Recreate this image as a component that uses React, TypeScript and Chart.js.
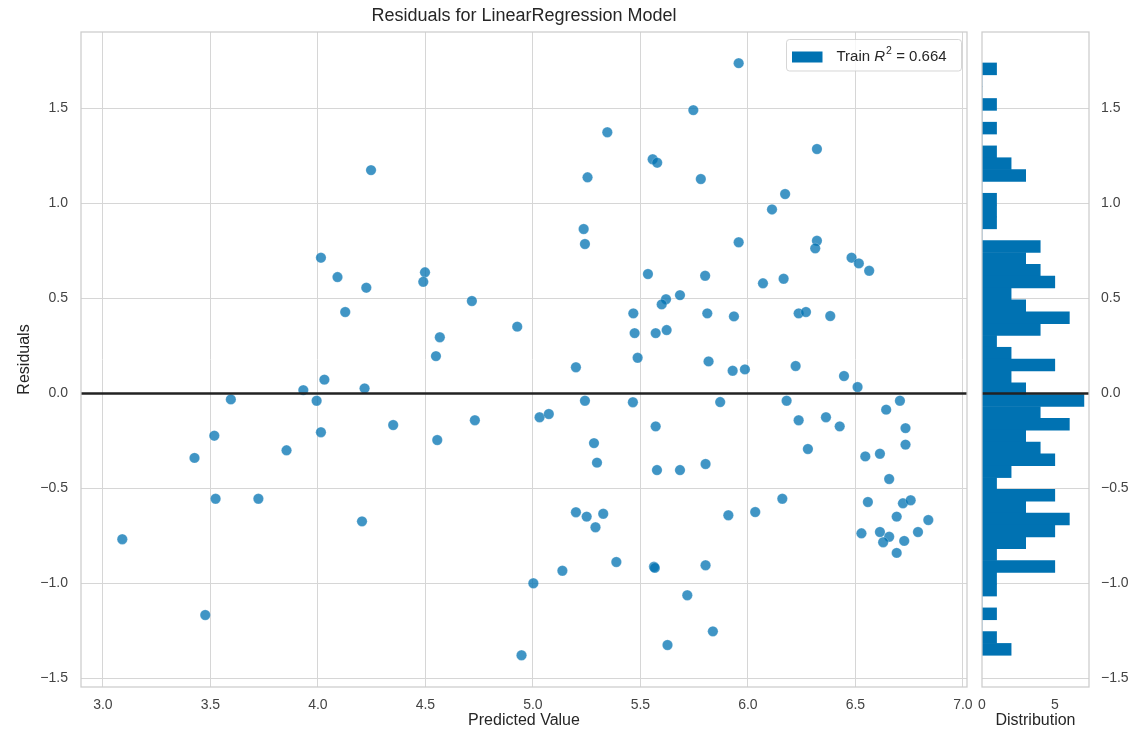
import React, { useEffect, useRef } from 'react';
import { Chart, registerables } from 'chart.js';

Chart.register(...registerables);

// ---------- data ----------
const predicted = [
  4.247, 4.014, 4.091, 4.225, 4.127, 4.030, 3.932, 4.217, 3.595, 3.994,
  4.014, 3.518, 3.854, 3.426, 3.524, 3.723, 4.205, 3.090, 3.476, 5.346,
  5.557, 5.578, 5.254, 5.236, 5.242, 5.535, 4.498, 4.490, 4.716, 5.619,
  5.599, 5.467, 4.567, 4.927, 5.473, 5.571, 5.622, 4.549, 5.487, 5.200,
  5.242, 5.465, 4.350, 4.730, 4.555, 5.031, 5.074, 5.571, 5.284, 5.298,
  5.577, 5.200, 5.250, 5.327, 5.291, 5.388, 5.563, 5.567, 5.137, 5.002,
  4.947, 5.626, 5.957, 5.746, 6.321, 5.781, 6.173, 6.112, 5.957, 6.321,
  6.313, 6.482, 6.516, 6.564, 5.801, 6.070, 6.166, 5.684, 5.811, 5.935,
  6.236, 6.270, 6.383, 5.817, 5.929, 5.986, 6.222, 6.447, 6.510, 5.871,
  6.180, 6.707, 6.643, 6.236, 6.363, 6.427, 6.733, 6.733, 6.279, 6.546,
  6.614, 6.657, 5.684, 5.803, 6.160, 5.909, 6.034, 6.558, 6.721, 6.757,
  6.692, 6.839, 6.528, 6.614, 6.657, 6.629, 6.727, 6.791, 6.692, 5.803,
  5.718, 5.837,
];

const residuals = [
  1.176, 0.715, 0.613, 0.557, 0.429, 0.073, 0.018, 0.027, -0.031, -0.038,
  -0.204, -0.222, -0.299, -0.339, -0.554, -0.554, -0.673, -0.767, -1.166, 1.375,
  1.233, 1.215, 1.138, 0.866, 0.787, 0.629, 0.638, 0.588, 0.487, 0.496,
  0.469, 0.422, 0.296, 0.352, 0.318, 0.318, 0.334, 0.197, 0.188, 0.138,
  -0.038, -0.046, -0.166, -0.141, -0.245, -0.125, -0.108, -0.173, -0.261, -0.364,
  -0.403, -0.625, -0.648, -0.633, -0.704, -0.887, -0.912, -0.918, -0.933, -0.999,
  -1.378, -1.324, 1.739, 1.492, 1.287, 1.129, 1.050, 0.969, 0.796, 0.804,
  0.764, 0.715, 0.685, 0.646, 0.620, 0.580, 0.604, 0.518, 0.422, 0.406,
  0.422, 0.429, 0.408, 0.169, 0.120, 0.127, 0.145, 0.092, 0.034, -0.045,
  -0.038, -0.038, -0.085, -0.141, -0.125, -0.173, -0.182, -0.269, -0.292, -0.331,
  -0.317, -0.450, -0.403, -0.371, -0.554, -0.641, -0.624, -0.571, -0.578, -0.562,
  -0.648, -0.666, -0.736, -0.729, -0.754, -0.783, -0.776, -0.729, -0.839, -0.904,
  -1.062, -1.252,
];

// histogram counts, from the highest-residual bin (top) to the lowest (bottom)
const histCounts = [
  1, 0, 0, 1, 0, 1, 0, 1, 2, 3,
  0, 1, 1, 1, 0, 4, 3, 4, 5, 2,
  3, 6, 4, 1, 2, 5, 2, 3, 7, 4,
  6, 3, 4, 5, 2, 1, 5, 3, 6, 5,
  3, 1, 5, 1, 1, 0, 1, 0, 1, 2,
];
const histTop = 1.740;
const histBottom = -1.378;

const xRange = [2.898, 7.019];
const yRange = [-1.545, 1.903];
const distRange = [0, 7.35];
const xStep = 0.5;
const yStep = 0.5;
const distStep = 5;

const chartTitle = 'Residuals for LinearRegression Model';
const xLabel = 'Predicted Value';
const yLabel = 'Residuals';
const distLabel = 'Distribution';
const r2Value = '0.664';

// ---------- styles ----------
const FONT = "'Liberation Sans', Arial, Helvetica, sans-serif";
const POINT = 'rgba(0,114,178,0.75)';
const BAR = 'rgb(0,114,178)';
const GRID = '#d6d6d6';
const SPINE = '#cccccc';
const TEXT = '#262626';
const TICK = '#444444';

function fmt(v: number): string {
  if (Math.abs(v) < 1e-9) return '0.0';
  return v.toFixed(1).replace('-', '\u2212');
}

const noPadX = (h: number) => (s: any) => {
  s.height = h;
  s.paddingLeft = 0;
  s.paddingRight = 0;
};
const noPadY = (w: number) => (s: any) => {
  s.width = w;
  s.paddingTop = 0;
  s.paddingBottom = 0;
};

const framePlugin = {
  id: 'frame',
  afterDraw(chart: any) {
    const { ctx, chartArea: a } = chart;
    ctx.save();
    ctx.strokeStyle = SPINE;
    ctx.lineWidth = 1.25;
    ctx.strokeRect(a.left, a.top, a.right - a.left, a.bottom - a.top);
    ctx.restore();
  },
};

const zeroLinePlugin = {
  id: 'zeroLine',
  afterDatasetsDraw(chart: any) {
    const { ctx, chartArea: a } = chart;
    const y = chart.scales.y.getPixelForValue(0);
    ctx.save();
    ctx.strokeStyle = '#222222';
    ctx.lineWidth = 2.5;
    ctx.beginPath();
    ctx.moveTo(a.left, y);
    ctx.lineTo(a.right, y);
    ctx.stroke();
    ctx.restore();
  },
};

const titlePlugin = {
  id: 'axesTitle',
  afterDraw(chart: any) {
    const { ctx, chartArea: a } = chart;
    ctx.save();
    ctx.fillStyle = TEXT;
    ctx.font = `18px ${FONT}`;
    ctx.textAlign = 'center';
    ctx.textBaseline = 'middle';
    ctx.fillText(chartTitle, (a.left + a.right) / 2, 16);
    ctx.restore();
  },
};

const legendPlugin = {
  id: 'r2Legend',
  afterDraw(chart: any) {
    const { ctx, chartArea: a } = chart;
    const w = 175;
    const h = 31.5;
    const right = a.right - 5.5;
    const top = a.top + 7.5;
    const left = right - w;
    const r = 3;
    ctx.save();
    ctx.beginPath();
    ctx.moveTo(left + r, top);
    ctx.lineTo(left + w - r, top);
    ctx.quadraticCurveTo(left + w, top, left + w, top + r);
    ctx.lineTo(left + w, top + h - r);
    ctx.quadraticCurveTo(left + w, top + h, left + w - r, top + h);
    ctx.lineTo(left + r, top + h);
    ctx.quadraticCurveTo(left, top + h, left, top + h - r);
    ctx.lineTo(left, top + r);
    ctx.quadraticCurveTo(left, top, left + r, top);
    ctx.closePath();
    ctx.fillStyle = 'rgba(255,255,255,0.8)';
    ctx.fill();
    ctx.strokeStyle = 'rgba(204,204,204,0.8)';
    ctx.lineWidth = 1;
    ctx.stroke();

    ctx.fillStyle = BAR;
    ctx.fillRect(left + 5.5, top + 12, 30.5, 11);

    const ty = top + 17;
    let x = left + 50;
    ctx.fillStyle = TEXT;
    ctx.textBaseline = 'middle';
    ctx.textAlign = 'left';
    ctx.font = `15px ${FONT}`;
    ctx.fillText('Train ', x, ty);
    x += ctx.measureText('Train ').width;
    ctx.font = `italic 15px ${FONT}`;
    ctx.fillText('R', x, ty);
    x += ctx.measureText('R').width + 1;
    ctx.font = `10.5px ${FONT}`;
    ctx.fillText('2', x, ty - 5);
    x += ctx.measureText('2').width;
    ctx.font = `15px ${FONT}`;
    ctx.fillText(' = ' + r2Value, x, ty);
    ctx.restore();
  },
};

export default function App() {
  const mainRef = useRef<HTMLCanvasElement | null>(null);
  const histRef = useRef<HTMLCanvasElement | null>(null);

  useEffect(() => {
    if (!mainRef.current || !histRef.current) return;

    const points = predicted.map((p, i) => ({ x: p, y: residuals[i] }));
    const binH = (histTop - histBottom) / histCounts.length;
    const bars = histCounts.map((c, i) => ({ x: c, y: histTop - (i + 0.5) * binH }));

    const tickFont = { family: FONT, size: 14 };
    const labelFont = { family: FONT, size: 16 };

    const main = new Chart(mainRef.current, {
      type: 'scatter',
      data: {
        datasets: [
          {
            data: points,
            backgroundColor: POINT,
            borderColor: 'rgba(255,255,255,0.5)',
            borderWidth: 0.4,
            pointRadius: 5.2,
            pointHoverRadius: 5.2,
          },
        ],
      },
      options: {
        animation: false,
        responsive: false,
        events: [],
        layout: { padding: { left: 0, right: 8, top: 32, bottom: 0 } },
        plugins: {
          legend: { display: false },
          tooltip: { enabled: false },
          title: { display: false },
        },
        scales: {
          x: {
            type: 'linear',
            position: 'bottom',
            min: xRange[0],
            max: xRange[1],
            afterFit: noPadX(43),
            grid: { color: GRID, lineWidth: 1, drawTicks: false },
            border: { display: false },
            ticks: {
              stepSize: xStep,
              includeBounds: false,
              padding: 10,
              color: TICK,
              font: tickFont,
              maxRotation: 0,
              callback: (v: any) => fmt(Number(v)),
            },
            title: { display: true, text: xLabel, color: TEXT, font: labelFont, padding: { top: 0, bottom: 0 } },
          },
          y: {
            type: 'linear',
            position: 'left',
            min: yRange[0],
            max: yRange[1],
            afterFit: noPadY(81),
            grid: { color: GRID, lineWidth: 1, drawTicks: false },
            border: { display: false },
            ticks: {
              stepSize: yStep,
              includeBounds: false,
              padding: 13,
              color: TICK,
              font: tickFont,
              callback: (v: any) => fmt(Number(v)),
            },
            title: { display: true, text: yLabel, color: TEXT, font: labelFont, padding: { top: 15, bottom: 0 } },
          },
        },
      } as any,
      plugins: [zeroLinePlugin, framePlugin, titlePlugin, legendPlugin],
    });

    const hist = new Chart(histRef.current, {
      type: 'bar',
      data: {
        datasets: [
          {
            data: bars as any,
            backgroundColor: BAR,
            borderWidth: 0,
            barPercentage: 1,
            categoryPercentage: 1,
          },
        ],
      },
      options: {
        animation: false,
        responsive: false,
        events: [],
        indexAxis: 'y',
        layout: { padding: { left: 7, right: 0, top: 32, bottom: 0 } },
        plugins: {
          legend: { display: false },
          tooltip: { enabled: false },
          title: { display: false },
        },
        scales: {
          x: {
            type: 'linear',
            position: 'bottom',
            min: distRange[0],
            max: distRange[1],
            offset: false,
            afterFit: noPadX(43),
            grid: { display: false, drawTicks: false },
            border: { display: false },
            ticks: {
              stepSize: distStep,
              includeBounds: false,
              padding: 10,
              color: TICK,
              font: tickFont,
              maxRotation: 0,
              callback: (v: any) => String(Number(v)),
            },
            title: { display: true, text: distLabel, color: TEXT, font: labelFont, padding: { top: 0, bottom: 0 } },
          },
          y: {
            type: 'linear',
            position: 'right',
            min: yRange[0],
            max: yRange[1],
            offset: false,
            afterFit: noPadY(53),
            grid: { color: GRID, lineWidth: 1, drawTicks: false, offset: false },
            border: { display: false },
            ticks: {
              stepSize: yStep,
              includeBounds: false,
              padding: 12,
              color: TICK,
              font: tickFont,
              callback: (v: any) => fmt(Number(v)),
            },
          },
        },
      } as any,
      plugins: [zeroLinePlugin, framePlugin],
    });

    return () => {
      main.destroy();
      hist.destroy();
    };
  }, []);

  return (
    <div style={{ position: 'absolute', left: 0, top: 0, width: 1142, height: 730, background: '#ffffff' }}>
      <canvas
        ref={mainRef}
        width={975}
        height={730}
        style={{ position: 'absolute', left: 0, top: 0, width: 975, height: 730, display: 'block' }}
      />
      <canvas
        ref={histRef}
        width={167}
        height={730}
        style={{ position: 'absolute', left: 975, top: 0, width: 167, height: 730, display: 'block' }}
      />
    </div>
  );
}
